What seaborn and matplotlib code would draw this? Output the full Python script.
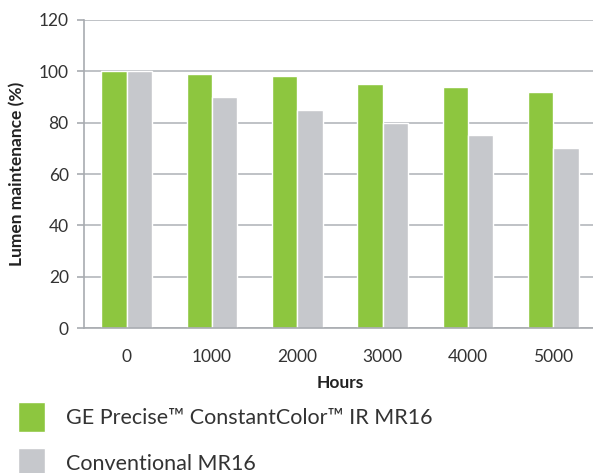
import matplotlib
matplotlib.use("Agg")
import matplotlib.pyplot as plt
import seaborn as sns
import pandas as pd

hours = ["0", "1000", "2000", "3000", "4000", "5000"]
ge_values = [100, 99, 98, 95, 94, 92]
conv_values = [100, 90, 85, 80, 75, 70]
series_names = ["GE Precise\u2122 ConstantColor\u2122 IR MR16", "Conventional MR16"]
colors = ["#8DC63F", "#C6C8CC"]

df = pd.DataFrame({
    "Hours": hours * 2,
    "value": ge_values + conv_values,
    "series": [series_names[0]] * len(hours) + [series_names[1]] * len(hours),
})

sns.set_theme(style="white")
plt.rcParams["font.family"] = ["Lato", "DejaVu Sans"]

fig = plt.figure(figsize=(5.93, 4.73), dpi=100)
ax = fig.add_axes([84 / 593, (473 - 328) / 473, (596 - 84) / 593, 308 / 473])

sns.barplot(data=df, x="Hours", y="value", hue="series", order=hours,
            hue_order=series_names, palette=colors, width=0.59, gap=0,
            saturation=1, ax=ax, legend=True)

ax.set_ylim(0, 120)
ax.set_xlim(-0.5, 5.5)
ax.set_yticks([0, 20, 40, 60, 80, 100, 120])
ax.yaxis.grid(True, color="#B4B7BC", linewidth=1.2)
ax.xaxis.grid(False)
ax.set_axisbelow(True)
for s in ["top", "right"]:
    ax.spines[s].set_visible(False)
for s in ["left", "bottom"]:
    ax.spines[s].set_color("#A8ABB0")
    ax.spines[s].set_linewidth(1.2)
ax.tick_params(axis="y", which="both", left=True, length=5, width=1.2,
               color="#A8ABB0", pad=6, labelsize=12.5, labelcolor="#333333")
ax.tick_params(axis="x", bottom=False, pad=9, labelsize=12.5, labelcolor="#333333")

ax.set_xlabel("Hours", fontsize=12.5, fontweight="bold", color="#222222", labelpad=7)
ax.set_ylabel("Lumen maintenance (%)", fontsize=12.5, fontweight="bold", color="#222222", labelpad=10)

handles, labels = ax.get_legend_handles_labels()
ax.get_legend().remove()
fig.legend(handles, labels, loc="upper left", bbox_to_anchor=(18 / 593, 1 - 402 / 473),
           frameon=False, fontsize=15.5, handlelength=1.25, handleheight=1.75,
           handletextpad=1.0, labelspacing=0.75, borderpad=0, borderaxespad=0,
           labelcolor="#333333")

fig.savefig("out.png", dpi=100)
